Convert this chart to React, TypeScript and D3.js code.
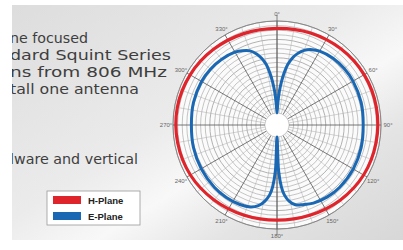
import React from "react";
import * as d3 from "d3";

const W = 403;
const H = 250;

const angleLabels = ["0°", "30°", "60°", "90°", "120°", "150°", "180°", "210°", "240°", "270°", "300°", "330°"];
const labelAngles = [0, 30, 60, 90, 120, 150, 180, 210, 240, 270, 300, 330];

// H-Plane (dB)
const hAngles = [0, 20, 40, 60, 80, 100, 120, 140, 160, 180, 200, 220, 240, 260, 280, 300, 320, 340];
const hValues = [-2.4, -2.0, -1.5, -1.1, -1.0, -1.1, -1.3, -1.9, -2.6, -2.9, -2.6, -2.0, -1.3, -1.0, -0.9, -1.2, -1.7, -2.2];

// E-Plane (dB)
const eAngles = [0, 2, 4, 6, 8, 10, 13, 16, 20, 25, 30, 40, 50, 60, 75, 90, 105, 120, 135, 145, 155, 162, 167, 171, 174, 176, 178, 180,
  182, 184, 186, 189, 193, 198, 205, 215, 225, 240, 255, 270, 285, 300, 310, 320, 330, 335, 340, 344, 347, 350, 352, 354, 356, 358];
const eValues = [-30, -27, -23, -19.5, -16.5, -14, -11.5, -9.7, -8.0, -6.8, -6.1, -5.5, -5.3, -5.3, -5.5, -5.8, -5.5, -5.2, -5.1, -5.3, -5.8, -6.6, -7.2, -8.8, -11, -13.8, -19, -30,
  -19, -13.8, -11, -8.8, -6.9, -5.8, -5.3, -5.1, -5.1, -5.4, -5.7, -6.0, -5.7, -5.5, -5.6, -5.9, -6.5, -7.2, -8.2, -9.8, -11.6, -14, -16.5, -19.5, -23, -27];

const legendItems = ["H-Plane", "E-Plane"];
const textLines = ["ne focused", "dard Squint Series", "ns from 806 MHz", "tall one antenna", "lware and vertical"];

// layout for the cropped paragraph (baseline y, visible right edge)
const lineLayout = [
  { y: 43, right: 88 },
  { y: 60, right: 171 },
  { y: 77, right: 167 },
  { y: 94, right: 139 },
  { y: 164, right: 138 },
];

export default function App() {
  const cx = 277, cy = 125;
  const r = d3.scaleLinear().domain([-30, 0]).range([12, 104]);
  const rings = d3.range(-30, 0.01, 1.5);
  const rad = (a: number) => (a * Math.PI) / 180;

  const line = d3
    .lineRadial<[number, number]>()
    .angle((d) => rad(d[0]))
    .radius((d) => r(d[1]))
    .curve(d3.curveCatmullRomClosed.alpha(0.5));

  const hPath = line(hAngles.map((a, i) => [a, hValues[i]] as [number, number])) || "";
  const ePath = line(eAngles.map((a, i) => [a, eValues[i]] as [number, number])) || "";

  const spokes = d3.range(0, 360, 10);
  const textLeft = 10;

  return (
    <svg width={W} height={H} style={{ position: "absolute", left: 0, top: 0 }}>
      <defs>
        <linearGradient id="bg" x1="0" y1="0" x2="1" y2="1">
          <stop offset="0" stopColor="#dcdcdc" />
          <stop offset="0.45" stopColor="#ebebeb" />
          <stop offset="0.6" stopColor="#f8f8f8" />
          <stop offset="0.75" stopColor="#e4e4e4" />
          <stop offset="1" stopColor="#d6d6d6" />
        </linearGradient>
        <clipPath id="photo">
          <rect x={12} y={5} width={W - 12} height={235} />
        </clipPath>
      </defs>
      <rect width={W} height={H} fill="#fff" />
      <g clipPath="url(#photo)">
        <rect x={0} y={0} width={W} height={H} fill="url(#bg)" />
        {textLines.map((t, i) => (
          <text
            key={i}
            x={textLeft}
            y={lineLayout[i].y}
            textLength={lineLayout[i].right - textLeft}
            lengthAdjust="spacingAndGlyphs"
            fontFamily="DejaVu Sans"
            fontSize={14.6}
            fill="#3e3e3e"
          >
            {t}
          </text>
        ))}
        <g transform={`translate(${cx},${cy})`}>
          <circle r={r(0)} fill="#fbfbfb" stroke="#777" strokeWidth={0.8} />
          {rings.map((v, i) => (
            <circle key={i} r={r(v)} fill="none" stroke={i % 4 === 0 ? "#808080" : "#a0a0a0"} strokeWidth={0.6} />
          ))}
          {spokes.map((a) => (
            <line
              key={a}
              x1={Math.sin(rad(a)) * r(-30)}
              y1={-Math.cos(rad(a)) * r(-30)}
              x2={Math.sin(rad(a)) * r(0)}
              y2={-Math.cos(rad(a)) * r(0)}
              stroke={a % 30 === 0 ? "#555" : "#aaa"}
              strokeWidth={a % 30 === 0 ? 0.8 : 0.5}
            />
          ))}
          <line x1={0} y1={-r(0) - 6} x2={0} y2={r(0) + 6} stroke="#666" strokeWidth={0.8} />
          <circle r={r(-30)} fill="#fff" stroke="#bbb" strokeWidth={0.5} />
          <path d={hPath} fill="none" stroke="#e0242c" strokeWidth={3.2} />
          <path d={ePath} fill="none" stroke="#1a68b4" strokeWidth={3} />
          {labelAngles.map((a, i) => (
            <text
              key={a}
              x={Math.sin(rad(a)) * 111}
              y={-Math.cos(rad(a)) * 111}
              textAnchor="middle"
              dominantBaseline="central"
              fontFamily="Liberation Sans"
              fontSize={6}
              fill="#666"
            >
              {angleLabels[i]}
            </text>
          ))}
        </g>
        <rect x={47} y={191} width={93} height={34} fill="#fff" stroke="#999" strokeWidth={0.8} />
        {legendItems.map((t, i) => (
          <g key={t}>
            <rect x={53} y={196 + i * 16} width={28} height={8} fill={i === 0 ? "#e0242c" : "#1a68b4"} />
            <text x={88} y={203.5 + i * 16} fontFamily="Liberation Sans" fontWeight="bold" fontSize={9.5} fill="#222">
              {t}
            </text>
          </g>
        ))}
      </g>
    </svg>
  );
}
